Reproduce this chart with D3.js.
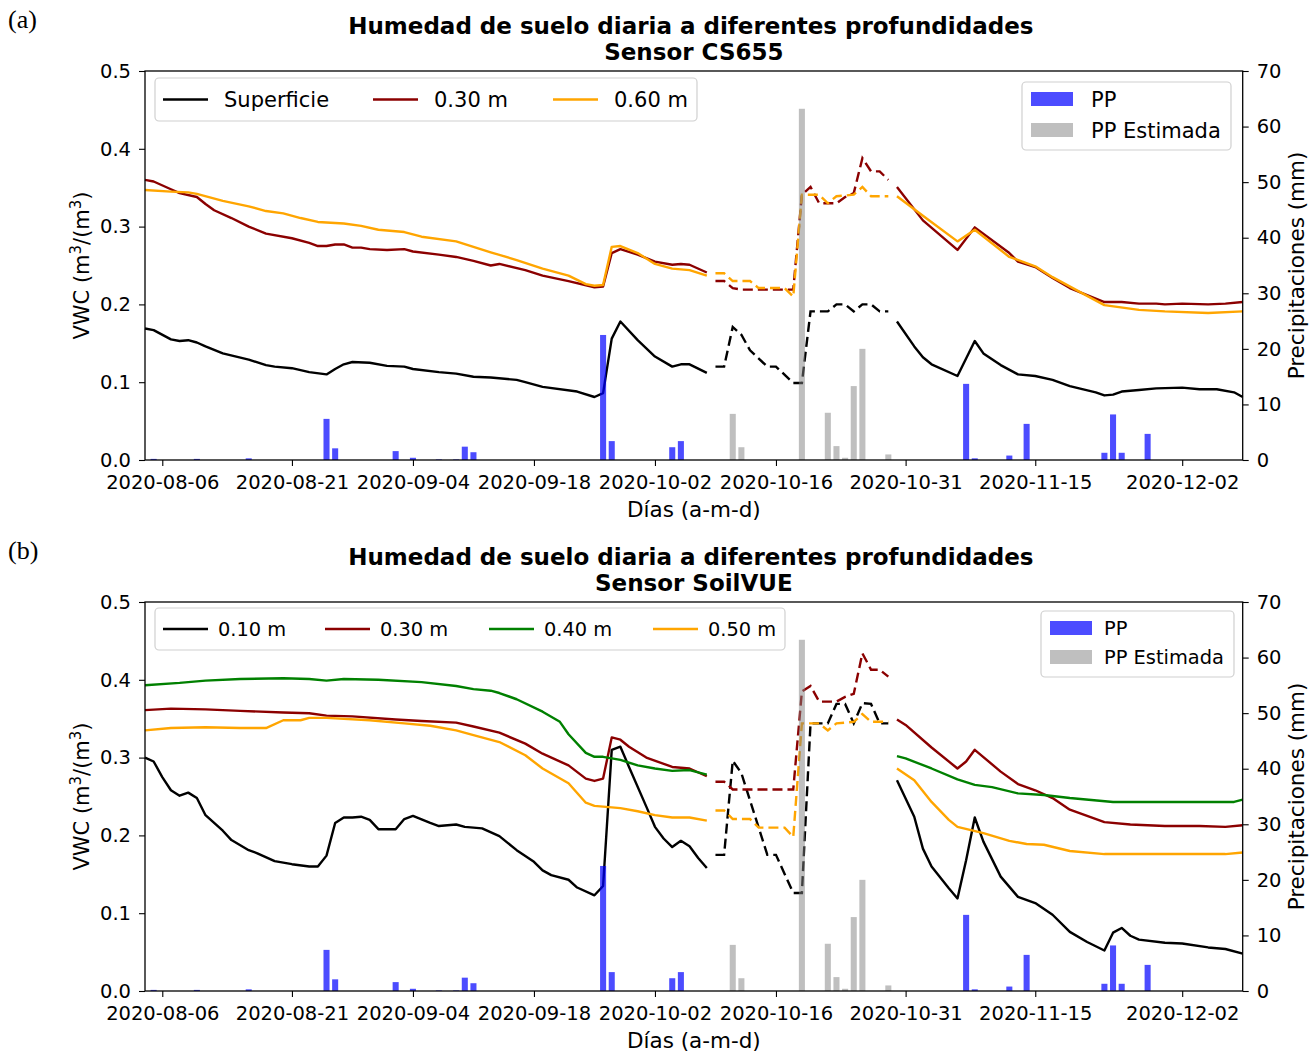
<!DOCTYPE html>
<html>
<head>
<meta charset="utf-8">
<script src="https://cdn.jsdelivr.net/npm/d3@7"></script>
<style>
  body { margin: 0; background: #fff; }
  svg { display: block; font-family: "DejaVu Sans", sans-serif; }
</style>
</head>
<body>
<div id="chart"></div>
<script>
// ---------- data ----------
// Panel (a) - CS655
const cs655Sup = [
  ["2020-08-04",0.169],["2020-08-05",0.167],["2020-08-07",0.155],["2020-08-08",0.153],["2020-08-09",0.154],
  ["2020-08-10",0.151],["2020-08-11",0.146],["2020-08-13",0.137],["2020-08-16",0.129],["2020-08-18",0.122],
  ["2020-08-19",0.120],["2020-08-21",0.118],["2020-08-23",0.113],["2020-08-25",0.110],["2020-08-26",0.117],
  ["2020-08-27",0.123],["2020-08-28",0.126],["2020-08-30",0.125],["2020-09-01",0.121],["2020-09-03",0.120],
  ["2020-09-04",0.117],["2020-09-07",0.113],["2020-09-09",0.111],["2020-09-11",0.107],["2020-09-13",0.106],
  ["2020-09-16",0.103],["2020-09-17",0.100],["2020-09-19",0.094],["2020-09-23",0.088],["2020-09-25",0.081],
  ["2020-09-26",0.086],["2020-09-27",0.156],["2020-09-28",0.178],["2020-09-30",0.154],["2020-10-02",0.133],
  ["2020-10-04",0.120],["2020-10-05",0.123],["2020-10-06",0.123],["2020-10-08",0.112],
  ["2020-10-09",null],
  ["2020-10-30",0.178],["2020-11-01",0.146],["2020-11-02",0.132],["2020-11-03",0.123],["2020-11-06",0.108],
  ["2020-11-08",0.153],["2020-11-09",0.137],["2020-11-11",0.122],["2020-11-13",0.110],["2020-11-15",0.108],
  ["2020-11-17",0.103],["2020-11-19",0.095],["2020-11-22",0.087],["2020-11-23",0.083],["2020-11-24",0.084],
  ["2020-11-25",0.088],["2020-11-27",0.090],["2020-11-29",0.092],["2020-12-02",0.093],["2020-12-04",0.091],
  ["2020-12-06",0.091],["2020-12-08",0.087],["2020-12-09",0.081]
];
const cs655SupEst = [
  ["2020-10-09",0.120],["2020-10-10",0.120],["2020-10-11",0.171],["2020-10-12",0.161],["2020-10-13",0.141],
  ["2020-10-15",0.120],["2020-10-16",0.120],["2020-10-18",0.099],["2020-10-19",0.099],["2020-10-20",0.191],
  ["2020-10-22",0.191],["2020-10-23",0.200],["2020-10-24",0.200],["2020-10-25",0.191],["2020-10-26",0.200],
  ["2020-10-27",0.200],["2020-10-28",0.191],["2020-10-29",0.191]
];
const cs655M30 = [
  ["2020-08-04",0.360],["2020-08-05",0.358],["2020-08-07",0.348],["2020-08-08",0.343],["2020-08-10",0.338],
  ["2020-08-11",0.329],["2020-08-12",0.321],["2020-08-14",0.311],["2020-08-16",0.300],["2020-08-18",0.291],
  ["2020-08-21",0.285],["2020-08-23",0.279],["2020-08-24",0.275],["2020-08-25",0.275],["2020-08-26",0.277],
  ["2020-08-27",0.277],["2020-08-28",0.273],["2020-08-29",0.273],["2020-08-30",0.271],["2020-09-01",0.270],
  ["2020-09-03",0.271],["2020-09-04",0.268],["2020-09-07",0.264],["2020-09-09",0.261],["2020-09-11",0.256],
  ["2020-09-13",0.250],["2020-09-14",0.252],["2020-09-17",0.244],["2020-09-19",0.237],["2020-09-22",0.230],
  ["2020-09-25",0.222],["2020-09-26",0.223],["2020-09-27",0.266],["2020-09-28",0.271],["2020-09-30",0.264],
  ["2020-10-02",0.255],["2020-10-04",0.251],["2020-10-05",0.252],["2020-10-06",0.251],["2020-10-08",0.241],
  ["2020-10-09",null],
  ["2020-10-30",0.351],["2020-11-02",0.308],["2020-11-06",0.270],["2020-11-08",0.299],["2020-11-12",0.266],
  ["2020-11-13",0.255],["2020-11-15",0.248],["2020-11-17",0.234],["2020-11-19",0.221],["2020-11-21",0.212],
  ["2020-11-23",0.203],["2020-11-25",0.203],["2020-11-27",0.201],["2020-11-29",0.201],["2020-11-30",0.200],
  ["2020-12-02",0.201],["2020-12-05",0.200],["2020-12-07",0.201],["2020-12-09",0.203]
];
const cs655M30Est = [
  ["2020-10-09",0.230],["2020-10-10",0.230],["2020-10-11",0.221],["2020-10-12",0.219],["2020-10-18",0.219],
  ["2020-10-19",0.341],["2020-10-20",0.351],["2020-10-21",0.330],["2020-10-23",0.330],["2020-10-24",0.338],
  ["2020-10-25",0.343],["2020-10-26",0.388],["2020-10-27",0.371],["2020-10-28",0.371],["2020-10-29",0.360]
];
const cs655M60 = [
  ["2020-08-04",0.347],["2020-08-07",0.345],["2020-08-09",0.344],["2020-08-10",0.342],["2020-08-13",0.333],
  ["2020-08-16",0.326],["2020-08-18",0.320],["2020-08-20",0.317],["2020-08-22",0.311],["2020-08-24",0.306],
  ["2020-08-27",0.304],["2020-08-29",0.301],["2020-08-31",0.296],["2020-09-03",0.293],["2020-09-05",0.287],
  ["2020-09-09",0.281],["2020-09-11",0.274],["2020-09-13",0.267],["2020-09-16",0.257],["2020-09-19",0.246],
  ["2020-09-22",0.237],["2020-09-24",0.226],["2020-09-25",0.224],["2020-09-26",0.225],["2020-09-27",0.274],
  ["2020-09-28",0.275],["2020-09-30",0.266],["2020-10-02",0.252],["2020-10-04",0.246],["2020-10-06",0.244],
  ["2020-10-08",0.237],
  ["2020-10-09",null],
  ["2020-10-30",0.339],["2020-11-02",0.314],["2020-11-06",0.281],["2020-11-08",0.296],["2020-11-12",0.261],
  ["2020-11-15",0.249],["2020-11-17",0.235],["2020-11-21",0.211],["2020-11-23",0.199],["2020-11-27",0.193],
  ["2020-11-30",0.191],["2020-12-05",0.189],["2020-12-09",0.191]
];
const cs655M60Est = [
  ["2020-10-09",0.240],["2020-10-10",0.240],["2020-10-11",0.230],["2020-10-13",0.230],["2020-10-14",0.221],
  ["2020-10-17",0.221],["2020-10-18",0.210],["2020-10-19",0.341],["2020-10-21",0.341],["2020-10-22",0.330],
  ["2020-10-23",0.339],["2020-10-25",0.341],["2020-10-26",0.351],["2020-10-27",0.339],["2020-10-29",0.339]
];

// Panel (b) - SoilVUE
const vueM10 = [
  ["2020-08-04",0.300],["2020-08-05",0.295],["2020-08-06",0.275],["2020-08-07",0.258],["2020-08-08",0.251],
  ["2020-08-09",0.255],["2020-08-10",0.248],["2020-08-11",0.226],["2020-08-13",0.206],["2020-08-14",0.194],
  ["2020-08-16",0.181],["2020-08-17",0.177],["2020-08-19",0.167],["2020-08-21",0.163],["2020-08-23",0.160],
  ["2020-08-24",0.160],["2020-08-25",0.174],["2020-08-26",0.216],["2020-08-27",0.223],["2020-08-28",0.223],
  ["2020-08-29",0.224],["2020-08-30",0.220],["2020-08-31",0.208],["2020-09-02",0.208],["2020-09-03",0.221],
  ["2020-09-04",0.225],["2020-09-06",0.216],["2020-09-07",0.212],["2020-09-09",0.214],["2020-09-10",0.211],
  ["2020-09-12",0.209],["2020-09-14",0.199],["2020-09-16",0.181],["2020-09-18",0.166],["2020-09-19",0.155],
  ["2020-09-20",0.149],["2020-09-22",0.143],["2020-09-23",0.133],["2020-09-25",0.123],["2020-09-26",0.135],
  ["2020-09-27",0.310],["2020-09-28",0.314],["2020-09-29",0.288],["2020-10-01",0.237],["2020-10-02",0.211],
  ["2020-10-03",0.196],["2020-10-04",0.185],["2020-10-05",0.193],["2020-10-06",0.186],["2020-10-07",0.171],
  ["2020-10-08",0.158],
  ["2020-10-09",null],
  ["2020-10-30",0.271],["2020-11-01",0.224],["2020-11-02",0.183],["2020-11-03",0.160],["2020-11-05",0.132],
  ["2020-11-06",0.119],["2020-11-07",0.168],["2020-11-08",0.223],["2020-11-09",0.192],["2020-11-11",0.147],
  ["2020-11-13",0.121],["2020-11-15",0.113],["2020-11-17",0.098],["2020-11-19",0.076],["2020-11-21",0.063],
  ["2020-11-23",0.052],["2020-11-24",0.075],["2020-11-25",0.081],["2020-11-26",0.071],["2020-11-27",0.066],
  ["2020-11-30",0.062],["2020-12-02",0.061],["2020-12-05",0.056],["2020-12-07",0.054],["2020-12-09",0.048]
];
const vueM10Est = [
  ["2020-10-09",0.175],["2020-10-10",0.175],["2020-10-11",0.296],["2020-10-12",0.280],["2020-10-15",0.175],
  ["2020-10-16",0.175],["2020-10-18",0.126],["2020-10-19",0.126],["2020-10-20",0.344],["2020-10-22",0.344],
  ["2020-10-23",0.369],["2020-10-24",0.369],["2020-10-25",0.344],["2020-10-26",0.370],["2020-10-27",0.369],
  ["2020-10-28",0.344],["2020-10-29",0.344]
];
const vueM30 = [
  ["2020-08-04",0.361],["2020-08-07",0.363],["2020-08-11",0.362],["2020-08-15",0.360],["2020-08-20",0.358],
  ["2020-08-23",0.357],["2020-08-25",0.354],["2020-08-28",0.353],["2020-09-02",0.349],["2020-09-05",0.347],
  ["2020-09-09",0.345],["2020-09-11",0.340],["2020-09-14",0.332],["2020-09-17",0.318],["2020-09-19",0.305],
  ["2020-09-22",0.290],["2020-09-24",0.273],["2020-09-25",0.270],["2020-09-26",0.273],["2020-09-27",0.326],
  ["2020-09-28",0.323],["2020-09-29",0.314],["2020-10-01",0.300],["2020-10-04",0.288],["2020-10-06",0.286],
  ["2020-10-08",0.276],
  ["2020-10-09",null],
  ["2020-10-30",0.349],["2020-10-31",0.342],["2020-11-03",0.313],["2020-11-06",0.286],["2020-11-07",0.295],
  ["2020-11-08",0.310],["2020-11-11",0.282],["2020-11-13",0.266],["2020-11-15",0.258],["2020-11-17",0.248],
  ["2020-11-19",0.233],["2020-11-21",0.225],["2020-11-23",0.217],["2020-11-26",0.214],["2020-11-30",0.212],
  ["2020-12-04",0.212],["2020-12-07",0.211],["2020-12-09",0.213]
];
const vueM30Est = [
  ["2020-10-09",0.269],["2020-10-10",0.269],["2020-10-11",0.259],["2020-10-18",0.259],["2020-10-19",0.385],
  ["2020-10-20",0.392],["2020-10-21",0.372],["2020-10-23",0.372],["2020-10-24",0.378],["2020-10-25",0.382],
  ["2020-10-26",0.434],["2020-10-27",0.413],["2020-10-28",0.413],["2020-10-29",0.404]
];
const vueM40 = [
  ["2020-08-04",0.393],["2020-08-08",0.396],["2020-08-11",0.399],["2020-08-15",0.401],["2020-08-20",0.402],
  ["2020-08-23",0.401],["2020-08-25",0.399],["2020-08-27",0.401],["2020-08-31",0.400],["2020-09-05",0.397],
  ["2020-09-09",0.392],["2020-09-11",0.388],["2020-09-13",0.386],["2020-09-14",0.383],["2020-09-16",0.375],
  ["2020-09-19",0.359],["2020-09-21",0.346],["2020-09-22",0.330],["2020-09-24",0.306],["2020-09-25",0.301],
  ["2020-09-26",0.301],["2020-09-28",0.297],["2020-09-30",0.290],["2020-10-02",0.286],["2020-10-04",0.283],
  ["2020-10-06",0.284],["2020-10-08",0.278],
  ["2020-10-09",null],
  ["2020-10-30",0.302],["2020-10-31",0.299],["2020-11-03",0.286],["2020-11-06",0.272],["2020-11-08",0.265],
  ["2020-11-10",0.262],["2020-11-13",0.254],["2020-11-16",0.252],["2020-11-19",0.248],["2020-11-24",0.243],
  ["2020-11-28",0.243],["2020-12-02",0.243],["2020-12-06",0.243],["2020-12-08",0.243],["2020-12-09",0.246]
];
const vueM50 = [
  ["2020-08-04",0.335],["2020-08-07",0.338],["2020-08-11",0.339],["2020-08-15",0.338],["2020-08-18",0.338],
  ["2020-08-20",0.348],["2020-08-22",0.348],["2020-08-23",0.351],["2020-08-25",0.351],["2020-08-30",0.348],
  ["2020-09-03",0.344],["2020-09-06",0.341],["2020-09-09",0.335],["2020-09-11",0.329],["2020-09-14",0.320],
  ["2020-09-17",0.303],["2020-09-19",0.286],["2020-09-22",0.267],["2020-09-24",0.242],["2020-09-25",0.238],
  ["2020-09-28",0.235],["2020-09-30",0.231],["2020-10-02",0.226],["2020-10-04",0.223],["2020-10-06",0.223],
  ["2020-10-08",0.219],
  ["2020-10-09",null],
  ["2020-10-30",0.286],["2020-11-01",0.271],["2020-11-03",0.243],["2020-11-05",0.220],["2020-11-06",0.211],
  ["2020-11-09",0.203],["2020-11-12",0.193],["2020-11-14",0.189],["2020-11-16",0.188],["2020-11-19",0.180],
  ["2020-11-23",0.176],["2020-11-28",0.176],["2020-12-04",0.176],["2020-12-07",0.176],["2020-12-09",0.178]
];
const vueM50Est = [
  ["2020-10-09",0.232],["2020-10-10",0.232],["2020-10-11",0.221],["2020-10-13",0.221],["2020-10-14",0.210],
  ["2020-10-17",0.210],["2020-10-18",0.198],["2020-10-19",0.344],["2020-10-21",0.344],["2020-10-22",0.335],
  ["2020-10-23",0.344],["2020-10-25",0.346],["2020-10-26",0.356],["2020-10-27",0.346],["2020-10-29",0.346]
];

// precipitation (mm), same in both panels
const ppDates  = ["2020-08-05","2020-08-10","2020-08-16","2020-08-25","2020-08-26","2020-09-02","2020-09-04",
                  "2020-09-07","2020-09-09","2020-09-10","2020-09-11","2020-09-26","2020-09-27","2020-10-04",
                  "2020-10-05","2020-11-07","2020-11-08","2020-11-12","2020-11-14","2020-11-23","2020-11-24",
                  "2020-11-25","2020-11-28"];
const ppValues = [0.2, 0.2, 0.3, 7.4, 2.1, 1.6, 0.4, 0.1, 0.1, 2.4, 1.4, 22.5, 3.4, 2.3, 3.4, 13.7, 0.3, 0.8,
                  6.5, 1.3, 8.2, 1.3, 4.7];
const ppEstDates  = ["2020-10-11","2020-10-12","2020-10-19","2020-10-22","2020-10-23","2020-10-24","2020-10-25",
                     "2020-10-26","2020-10-29"];
const ppEstValues = [8.3, 2.3, 63.2, 8.5, 2.5, 0.4, 13.3, 20.0, 1.0];

const xTickDates = ["2020-08-06","2020-08-21","2020-09-04","2020-09-18","2020-10-02","2020-10-16",
                    "2020-10-31","2020-11-15","2020-12-02"];
const vwcTicks = [0, 0.1, 0.2, 0.3, 0.4, 0.5];
const ppTicks = [0, 10, 20, 30, 40, 50, 60, 70];

// ---------- drawing ----------
const W = 1315, H = 1053;
const parse = d3.timeParse("%Y-%m-%d");
const colors = { black: "#000000", red: "#8b0000", orange: "#ffa500", green: "#008000" };

const svg = d3.select("#chart").append("svg")
  .attr("width", W).attr("height", H)
  .attr("viewBox", `0 0 ${W} ${H}`);
svg.append("rect").attr("width", W).attr("height", H).attr("fill", "#fff");

const x = d3.scaleTime()
  .domain([parse("2020-08-04"), parse("2020-12-09")])
  .range([145, 1242.7]);
const dayW = x(parse("2020-08-05")) - x(parse("2020-08-04"));

const panels = [
  {
    tag: "(a)", top: 71, bottom: 460, sensor: "Sensor CS655",
    series: [
      { name: "Superficie", color: colors.black, solid: cs655Sup, est: cs655SupEst },
      { name: "0.30 m", color: colors.red, solid: cs655M30, est: cs655M30Est },
      { name: "0.60 m", color: colors.orange, solid: cs655M60, est: cs655M60Est }
    ],
    legendBox: { x: 155, y: 78, w: 542, h: 43 },
    legendX: [163, 373, 553], legendText: 61, legendFont: 21,
    rainBox: { x: 1022, y: 82, w: 209, h: 68 }, rainText: 69
  },
  {
    tag: "(b)", top: 602, bottom: 991, sensor: "Sensor SoilVUE",
    series: [
      { name: "0.10 m", color: colors.black, solid: vueM10, est: vueM10Est },
      { name: "0.30 m", color: colors.red, solid: vueM30, est: vueM30Est },
      { name: "0.40 m", color: colors.green, solid: vueM40, est: null },
      { name: "0.50 m", color: colors.orange, solid: vueM50, est: vueM50Est }
    ],
    legendBox: { x: 155, y: 608, w: 630, h: 42 },
    legendX: [163, 325, 489, 653], legendText: 55, legendFont: 19.4,
    rainBox: { x: 1041, y: 611, w: 193, h: 66 }, rainText: 63
  }
];

panels.forEach(p => drawPanel(p));

function drawPanel(p) {
  const left = 145, right = 1242.7;
  const y = d3.scaleLinear().domain([0, 0.5]).range([p.bottom, p.top]);
  const y2 = d3.scaleLinear().domain([0, 70]).range([p.bottom, p.top]);
  const g = svg.append("g");

  // tag and title
  g.append("text").attr("x", 8).attr("y", p.top - 43)
    .style("font-family", "'Liberation Serif', 'DejaVu Serif', serif")
    .style("font-size", "26px").text(p.tag);
  const cx = (left + right) / 2 - 3;
  g.append("text").attr("x", cx).attr("y", p.top - 37).attr("text-anchor", "middle")
    .style("font-size", "23px").style("font-weight", "bold")
    .text("Humedad de suelo diaria a diferentes profundidades");
  g.append("text").attr("x", cx + 3).attr("y", p.top - 11.5).attr("text-anchor", "middle")
    .style("font-size", "23px").style("font-weight", "bold")
    .text(p.sensor);

  // lines
  const line = d3.line()
    .defined(d => d[1] != null)
    .x(d => x(parse(d[0])))
    .y(d => y(d[1]));

  p.series.forEach(s => {
    g.append("path").datum(s.solid)
      .attr("d", line).attr("fill", "none")
      .attr("stroke", s.color).attr("stroke-width", 2.4)
      .attr("stroke-linejoin", "round");
    if (s.est) {
      g.append("path").datum(s.est)
        .attr("d", line).attr("fill", "none")
        .attr("stroke", s.color).attr("stroke-width", 2.4)
        .attr("stroke-dasharray", "10,5");
    }
  });

  // bars (drawn on top, semi-transparent like the twin axis)
  g.selectAll(".pp").data(ppDates.map((d, i) => [d, ppValues[i]]))
    .join("rect")
    .attr("x", d => x(parse(d[0])) - dayW * 0.35)
    .attr("width", dayW * 0.7)
    .attr("y", d => y2(d[1]))
    .attr("height", d => p.bottom - y2(d[1]))
    .attr("fill", "#0000ff").attr("fill-opacity", 0.7);
  g.selectAll(".ppEst").data(ppEstDates.map((d, i) => [d, ppEstValues[i]]))
    .join("rect")
    .attr("x", d => x(parse(d[0])) - dayW * 0.35)
    .attr("width", dayW * 0.7)
    .attr("y", d => y2(d[1]))
    .attr("height", d => p.bottom - y2(d[1]))
    .attr("fill", "#808080").attr("fill-opacity", 0.5);

  // axes
  const xAxis = d3.axisBottom(x)
    .tickValues(xTickDates.map(parse))
    .tickFormat(d3.timeFormat("%Y-%m-%d"))
    .tickSize(6).tickPadding(4);
  const gx = g.append("g").attr("transform", `translate(0,${p.bottom})`).call(xAxis);
  const gy = g.append("g").attr("transform", `translate(${left},0)`)
    .call(d3.axisLeft(y).tickValues(vwcTicks).tickFormat(d3.format(".1f")).tickSize(6).tickPadding(8));
  const gy2 = g.append("g").attr("transform", `translate(${right},0)`)
    .call(d3.axisRight(y2).tickValues(ppTicks).tickSize(6).tickPadding(8));
  [gx, gy, gy2].forEach(a => {
    a.select(".domain").remove();
    a.selectAll("text").style("font-size", "19.5px").attr("fill", "#000")
      .style("font-family", "'DejaVu Sans', sans-serif");
    a.selectAll("line").attr("stroke", "#000").attr("stroke-width", 1.1);
  });
  gx.selectAll("text").attr("dy", "0.95em");

  // frame
  g.append("rect").attr("x", left).attr("y", p.top)
    .attr("width", right - left).attr("height", p.bottom - p.top)
    .attr("fill", "none").attr("stroke", "#000").attr("stroke-width", 1.3);

  // axis labels
  g.append("text").attr("x", (left + right) / 2).attr("y", p.bottom + 57)
    .attr("text-anchor", "middle").style("font-size", "21.5px").text("Días (a-m-d)");
  const yl = g.append("text")
    .attr("transform", `translate(89,${(p.top + p.bottom) / 2}) rotate(-90)`)
    .attr("text-anchor", "middle").style("font-size", "21px");
  yl.append("tspan").text("VWC (m");
  yl.append("tspan").attr("dy", -8).style("font-size", "15px").text("3");
  yl.append("tspan").attr("dy", 8).text("/(m");
  yl.append("tspan").attr("dy", -8).style("font-size", "15px").text("3");
  yl.append("tspan").attr("dy", 8).text(")");
  g.append("text")
    .attr("transform", `translate(1304,${(p.top + p.bottom) / 2}) rotate(-90)`)
    .attr("text-anchor", "middle").style("font-size", "21.5px").text("Precipitaciones (mm)");

  // line legend
  const lb = p.legendBox;
  g.append("rect").attr("x", lb.x).attr("y", lb.y).attr("width", lb.w).attr("height", lb.h)
    .attr("rx", 4).attr("fill", "#fff").attr("fill-opacity", 0.8)
    .attr("stroke", "#d0d0d0").attr("stroke-width", 1.2);
  const ly = lb.y + lb.h / 2;
  p.series.forEach((s, i) => {
    const lx = p.legendX[i];
    g.append("line").attr("x1", lx).attr("x2", lx + 45).attr("y1", ly).attr("y2", ly)
      .attr("stroke", s.color).attr("stroke-width", 2.4);
    g.append("text").attr("x", lx + p.legendText).attr("y", ly + p.legendFont * 0.36)
      .style("font-size", p.legendFont + "px").text(s.name);
  });

  // rain legend
  const rb = p.rainBox;
  g.append("rect").attr("x", rb.x).attr("y", rb.y).attr("width", rb.w).attr("height", rb.h)
    .attr("rx", 4).attr("fill", "#fff").attr("fill-opacity", 0.8)
    .attr("stroke", "#d0d0d0").attr("stroke-width", 1.2);
  [["PP", "#0000ff", 0.7], ["PP Estimada", "#808080", 0.5]].forEach((e, i) => {
    const ry = rb.y + 10 + i * (rb.h - 37);
    g.append("rect").attr("x", rb.x + 9).attr("y", ry).attr("width", 42).attr("height", 14)
      .attr("fill", e[1]).attr("fill-opacity", e[2]);
    g.append("text").attr("x", rb.x + p.rainText).attr("y", ry + 7 + p.legendFont * 0.36)
      .style("font-size", p.legendFont + "px").text(e[0]);
  });
}
</script>
</body>
</html>
